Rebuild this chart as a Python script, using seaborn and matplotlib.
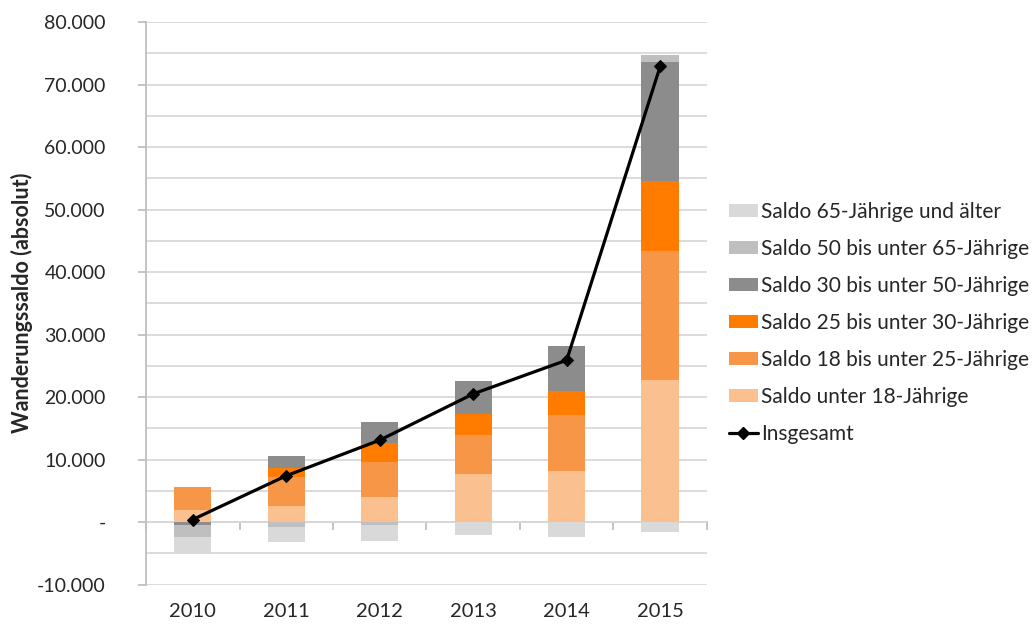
import numpy as np
import pandas as pd
import matplotlib
matplotlib.use("Agg")
import matplotlib.pyplot as plt
import seaborn as sns
from matplotlib.ticker import FuncFormatter, MultipleLocator
from matplotlib.lines import Line2D
from matplotlib.patches import Patch

# data
years = ["2010", "2011", "2012", "2013", "2014", "2015"]
unter_18 = [1900, 2550, 3950, 7630, 8160, 22700]
bis_25 = [3750, 4700, 5700, 6290, 8960, 20700]
bis_30 = [0, 1350, 2950, 3360, 3880, 11200]
bis_50 = [-550, 2000, 3450, 5320, 7150, 19000]
bis_65 = [-1850, -850, -450, 0, 0, 1100]
ab_65 = [-2700, -2350, -2550, -2000, -2350, -1650]
insgesamt = [400, 7400, 13100, 20500, 25900, 72900]

series_names = ["Saldo unter 18-Jährige", "Saldo 18 bis unter 25-Jährige",
                "Saldo 25 bis unter 30-Jährige", "Saldo 30 bis unter 50-Jährige",
                "Saldo 50 bis unter 65-Jährige", "Saldo 65-Jährige und älter"]
series_vals = [unter_18, bis_25, bis_30, bis_50, bis_65, ab_65]
colors = ["#fac090", "#f79646", "#ff7c00", "#8c8c8c", "#bfbfbf", "#d9d9d9"]

sns.set_theme(style="white")
plt.rcParams["font.family"] = ["Lato", "DejaVu Sans"]
plt.rcParams["text.color"] = "#262626"

fig = plt.figure(figsize=(10.32, 6.24), dpi=100)
ax = fig.add_axes([0.1415, 0.0633, 0.5435, 0.9014])

pos_cum = np.zeros(len(years))
neg_cum = np.zeros(len(years))
for name, vals, col in zip(series_names, series_vals, colors):
    v = np.array(vals, dtype=float)
    bottom = np.where(v >= 0, pos_cum, neg_cum)
    df = pd.DataFrame({"Jahr": years, "Wert": v})
    sns.barplot(data=df, x="Jahr", y="Wert", color=col, saturation=1,
                width=0.4, bottom=bottom, edgecolor="none", ax=ax, zorder=2)
    pos_cum += np.where(v >= 0, v, 0)
    neg_cum += np.where(v < 0, v, 0)

line_df = pd.DataFrame({"pos": np.arange(len(years)), "Insgesamt": insgesamt})
sns.lineplot(data=line_df, x="pos", y="Insgesamt", color="black", linewidth=2.3,
             marker="D", markersize=6, markeredgecolor="black", ax=ax, zorder=4)

ax.set_xlim(-0.5, len(years) - 0.5)
ax.set_ylim(-10000, 80000)
ax.yaxis.set_major_locator(MultipleLocator(10000))
ax.yaxis.set_minor_locator(MultipleLocator(5000))
ax.yaxis.set_major_formatter(FuncFormatter(
    lambda v, p: "-" if v == 0 else f"{int(v):,}".replace(",", ".")))
ax.grid(axis="y", which="both", color="#d9d9d9", linewidth=1.3, zorder=0)
ax.set_axisbelow(True)
ax.tick_params(axis="y", which="major", left=True, length=6, width=1.3,
               color="#bfbfbf", pad=23, labelsize=14, labelcolor="#262626")
ax.tick_params(axis="y", which="minor", length=0)
ax.tick_params(axis="x", length=0, pad=13, labelsize=14.5, labelcolor="#262626")
ax.set_xlabel("")
ax.set_ylabel("Wanderungssaldo (absolut)", fontsize=15.5, fontweight="bold", labelpad=3)
for s in ["top", "right", "bottom"]:
    ax.spines[s].set_visible(False)
ax.spines["left"].set_color("#bfbfbf")
ax.spines["left"].set_linewidth(1.3)

# category axis at zero with boundary ticks
sec = ax.secondary_xaxis(10000 / 90000)
sec.set_xticks(np.arange(len(years) + 1) - 0.5)
sec.set_xticklabels([])
sec.tick_params(length=6, width=1.3, color="#bfbfbf", direction="out")
sec.spines["bottom"].set_color("#bfbfbf")
sec.spines["bottom"].set_linewidth(1.3)
for s in ["top", "left", "right"]:
    sec.spines[s].set_visible(False)

handles = [Patch(facecolor=c, edgecolor="none") for c in colors][::-1]
labels = series_names[::-1]
handles.append(Line2D([0], [0], color="black", linewidth=2.3, marker="D", markersize=6))
labels.append("Insgesamt")
fig.legend(handles, labels, loc="upper left", bbox_to_anchor=(0.706, 0.677),
           frameon=False, fontsize=15, handlelength=1.4, handleheight=0.6,
           handletextpad=0.15, labelspacing=0.82, borderpad=0, borderaxespad=0)

fig.savefig("out.png", dpi=100)
